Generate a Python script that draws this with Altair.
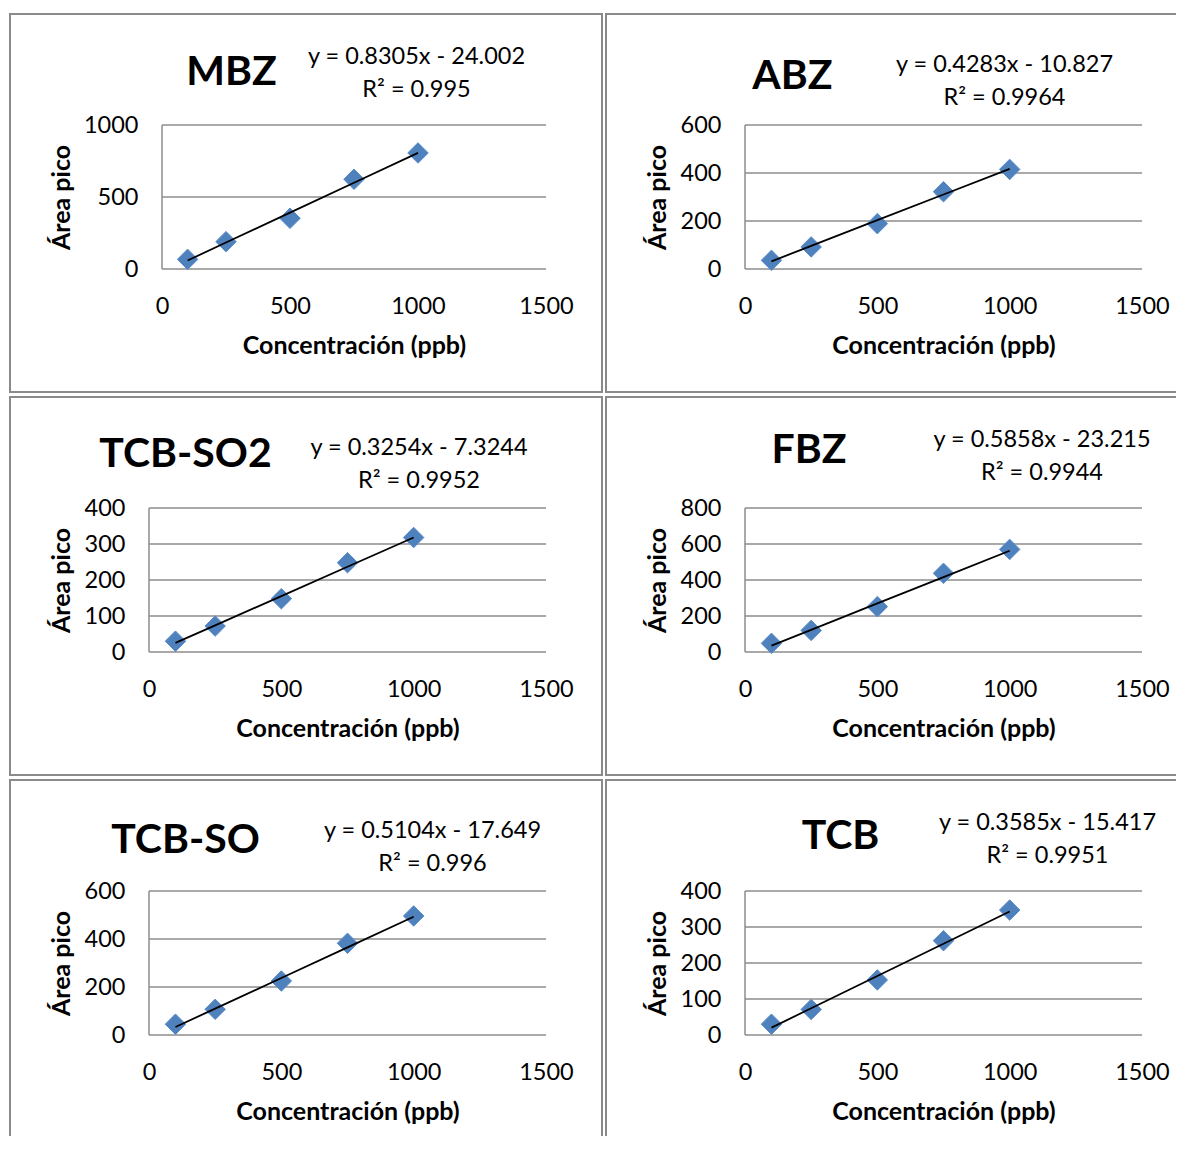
import altair as alt
import pandas as pd

# ---- data ----
names = ["MBZ", "ABZ", "TCB-SO2", "FBZ", "TCB-SO", "TCB"]
conc = [100, 250, 500, 750, 1000]
mbz_area = [67, 190, 352, 623, 806]
abz_area = [36, 92, 189, 322, 415]
tcbso2_area = [30, 72, 148, 248, 318]
fbz_area = [48, 120, 252, 437, 570]
tcbso_area = [45, 107, 225, 382, 496]
tcb_area = [30, 71, 153, 262, 347]
areas = [mbz_area, abz_area, tcbso2_area, fbz_area, tcbso_area, tcb_area]

slopes = [0.8305, 0.4283, 0.3254, 0.5858, 0.5104, 0.3585]
intercepts = [-24.002, -10.827, -7.3244, -23.215, -17.649, -15.417]
eq_labels = ["y = 0.8305x - 24.002", "y = 0.4283x - 10.827", "y = 0.3254x - 7.3244",
             "y = 0.5858x - 23.215", "y = 0.5104x - 17.649", "y = 0.3585x - 15.417"]
r2_labels = ["R² = 0.995", "R² = 0.9964", "R² = 0.9952",
             "R² = 0.9944", "R² = 0.996", "R² = 0.9951"]
y_ticks = [[0, 500, 1000], [0, 200, 400, 600], [0, 100, 200, 300, 400],
           [0, 200, 400, 600, 800], [0, 200, 400, 600], [0, 100, 200, 300, 400]]
x_ticks = [0, 500, 1000, 1500]

# ---- layout (pixels, relative to each panel's plot group) ----
plot_w = 397
plot_h = 144
x_range_left = [13, 0, 0, 0, 0, 0]       # MBZ's plot starts further right
title_pos = [(82.5, -52.5), (47.5, -48.5), (36.5, -53.5), (64, -57.5), (36.5, -50.5), (95.5, -54.5)]
eq_pos = [(267.5, -68), (259.5, -60), (270, -60), (297, -68), (283.5, -60), (302.5, -68)]

FONT = "Lato"
GRID = "#8c8c8c"
FRAME = "#8a8a8a"
BLUE = "#4F81BD"


def rule(x1, x2, y1, y2):
    return alt.Chart(alt.Data(values=[{}])).mark_rule(
        color=FRAME, strokeWidth=2, strokeCap="square"
    ).encode(x=alt.value(x1), x2=alt.value(x2), y=alt.value(y1), y2=alt.value(y2))


def frame(col, row):
    left, top = -139, -111
    right = 453 if col == 0 else 430
    bottom = 267 if row < 2 else 244
    parts = [rule(left, right, top, top), rule(left, left, top, bottom)]
    if col == 0:
        parts.append(rule(right, right, top, bottom))
    if row < 2:
        parts.append(rule(left, right, bottom, bottom))
    return parts


def panel(i):
    col, row = i % 2, i // 2
    df = pd.DataFrame({"x": conc, "y": areas[i]})
    ymax = y_ticks[i][-1]
    r0 = x_range_left[i]
    xs = alt.Scale(domain=[0, 1500], nice=False, range=[r0, plot_w])
    ys = alt.Scale(domain=[0, ymax], nice=False)
    xax = alt.Axis(values=x_ticks, format="d", grid=False, domain=False, ticks=False,
                   tickSize=0, labelOverlap=False, labelFlush=False, labelPadding=25,
                   labelFontSize=23.5, labelFont=FONT, labelColor="#000000",
                   title="Concentración (ppb)", titleFont=FONT, titleFontSize=25,
                   titleFontWeight="bold", titleColor="#000000",
                   titleX=r0 + (plot_w - r0) / 2, titleY=76,
                   titleBaseline="middle", titleAlign="center")
    yax = alt.Axis(values=y_ticks[i], format="d", grid=False, domain=False, ticks=False,
                   tickSize=0, labelOverlap=False, labelFlush=False,
                   labelPadding=24 - r0, labelFontSize=23.5, labelFont=FONT,
                   labelColor="#000000", title="Área pico", titleFont=FONT,
                   titleFontSize=25, titleFontWeight="bold", titleColor="#000000",
                   titleAngle=270, titleX=-88, titleY=plot_h / 2, titleAlign="center",
                   titleBaseline="middle")

    grid = alt.Chart(pd.DataFrame({"v": y_ticks[i]})).mark_rule(
        color=GRID, strokeWidth=1.4
    ).encode(
        y=alt.Y("v:Q", scale=ys, axis=yax),
        x=alt.X(datum=0, scale=xs, axis=xax),
        x2=alt.datum(1500),
    )
    yline = alt.Chart(alt.Data(values=[{}])).mark_rule(
        color=GRID, strokeWidth=1.5
    ).encode(x=alt.X(datum=0, scale=xs, axis=xax),
             y=alt.Y(datum=0, scale=ys, axis=yax), y2=alt.datum(ymax))
    pts = alt.Chart(df).mark_point(
        shape="diamond", filled=True, size=420, color=BLUE, opacity=1,
        stroke="#5a8ccc", strokeWidth=1
    ).encode(x=alt.X("x:Q", scale=xs, axis=xax), y=alt.Y("y:Q", scale=ys, axis=yax))
    line = alt.Chart(df).transform_calculate(
        fit=f"{slopes[i]} * datum.x + ({intercepts[i]})"
    ).mark_line(color="#000000", strokeWidth=1.8).encode(
        x=alt.X("x:Q", scale=xs, axis=xax), y=alt.Y("fit:Q", scale=ys, axis=yax)
    )
    title = alt.Chart(alt.Data(values=[{"t": names[i]}])).mark_text(
        font=FONT, fontSize=41, fontWeight="bold", color="#000000",
        align="center", baseline="middle"
    ).encode(text="t:N", x=alt.value(title_pos[i][0]), y=alt.value(title_pos[i][1]))
    eq1 = alt.Chart(alt.Data(values=[{"t": eq_labels[i]}])).mark_text(
        font=FONT, fontSize=23.5, color="#000000", align="center", baseline="middle"
    ).encode(text="t:N", x=alt.value(eq_pos[i][0]), y=alt.value(eq_pos[i][1]))
    eq2 = alt.Chart(alt.Data(values=[{"t": r2_labels[i]}])).mark_text(
        font=FONT, fontSize=23.5, color="#000000", align="center", baseline="middle"
    ).encode(text="t:N", x=alt.value(eq_pos[i][0]), y=alt.value(eq_pos[i][1] + 33))

    layers = frame(col, row) + [grid, yline, pts, line, title, eq1, eq2]
    return alt.layer(*layers).properties(width=plot_w, height=plot_h)


rows = []
for r in range(3):
    rows.append(alt.hconcat(panel(2 * r), panel(2 * r + 1), spacing=0))

chart = alt.vconcat(*rows, spacing=1).properties(
    padding={"left": 0, "top": 4, "right": 0, "bottom": 0},
    background="white",
).configure_view(stroke="transparent").configure_axis(labelOverlap=False)

chart.save("out.html", embed_options={"renderer": "svg", "actions": False})
